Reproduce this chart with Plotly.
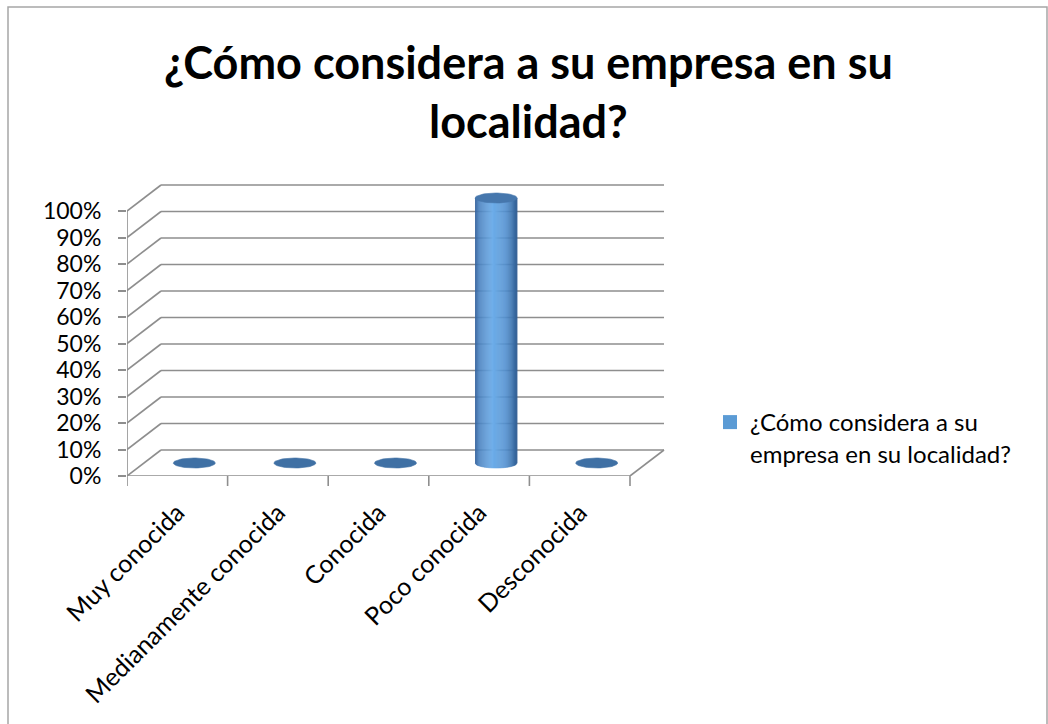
import numpy as np
import plotly.graph_objects as go

# ---- data ----
categories = ["Muy conocida", "Medianamente conocida", "Conocida", "Poco conocida", "Desconocida"]
values = [0.0, 0.0, 0.0, 1.0, 0.0]
series_name = "¿Cómo considera a su empresa en su localidad?"
y_ticks = [i / 10 for i in range(11)]

# ---- geometry of the pseudo-3D box (data units) ----
W, H = 1048, 724
L, R, T, B = 127, 383, 180, 248
plot_w = W - L - R
plot_h = H - T - B
cat_px = 100.6                      # pixels per category on the front edge
unit_px = 265.0                     # pixels per 100 %
x_min = -0.5
x_max = x_min + plot_w / cat_px
y_max = plot_h / unit_px
dx = 34 / cat_px                    # depth offset, horizontal
dy = 26 / unit_px                   # depth offset, vertical
n = len(categories)
rx = 21 / cat_px                    # cylinder radius (x)
ry = 5 / unit_px                    # cylinder radius (y, foreshortened)

grid_col = "#8e8e8e"
fig = go.Figure()
shapes = []

def seg(x0, y0, x1, y1, w=1.6, col=grid_col):
    shapes.append(dict(type="line", xref="x", yref="y", x0=x0, y0=y0, x1=x1, y1=y1,
                       line=dict(color=col, width=w), layer="below"))

# back wall gridlines + left wall diagonals
for v in y_ticks:
    seg(x_min, v, x_min + dx, v + dy)
    seg(x_min + dx, v + dy, n - 0.5 + dx, v + dy)
# front edge of the floor and right edge
seg(x_min, 0, n - 0.5, 0)
seg(n - 0.5, 0, n - 0.5 + dx, dy)
# front vertical axis
seg(x_min, 0, x_min, 1.0)
# category boundary ticks below the floor
for k in range(n + 1):
    shapes.append(dict(type="line", xref="x", yref="paper", x0=x_min + k, x1=x_min + k,
                       y0=0, y1=-10 / plot_h, line=dict(color=grid_col, width=1.6)))

# ---- cylinders ----
def blend(c1, c2, t):
    c1 = np.array([int(c1[i:i + 2], 16) for i in (1, 3, 5)])
    c2 = np.array([int(c2[i:i + 2], 16) for i in (1, 3, 5)])
    c = (c1 + (c2 - c1) * t).round().astype(int)
    return "#%02x%02x%02x" % tuple(c)

def body_color(u):
    # u in [0,1] across the cylinder, highlight left of centre
    stops = [(0.0, "#35629a"), (0.10, "#4a82c0"), (0.42, "#6eaeea"),
             (0.72, "#5190d0"), (0.9, "#3f73ad"), (1.0, "#325e92")]
    for (a, ca), (b, cb) in zip(stops[:-1], stops[1:]):
        if a <= u <= b:
            return blend(ca, cb, (u - a) / (b - a))
    return stops[-1][1]

theta = np.linspace(0, 2 * np.pi, 60)
for i, v in enumerate(values):
    xc = i + dx / 2
    yb = dy / 2
    if v > 0:
        yt = v + dy / 2
        strips = 40
        edges = np.linspace(xc - rx, xc + rx, strips + 1)
        for k in range(strips):
            xs = np.linspace(edges[k], edges[k + 1], 4)
            ybot = yb - ry * np.sqrt(np.clip(1 - ((xs - xc) / rx) ** 2, 0, 1))
            px = list(xs) + [edges[k + 1], edges[k]]
            py = list(ybot) + [yt, yt]
            col = body_color((k + 0.5) / strips)
            fig.add_trace(go.Scatter(x=px, y=py, mode="lines", fill="toself",
                                     fillcolor=col, line=dict(color=col, width=0.6),
                                     hoverinfo="skip", showlegend=False))
        fig.add_trace(go.Scatter(x=xc + rx * np.cos(theta), y=yt + ry * np.sin(theta),
                                 mode="lines", fill="toself", fillcolor="#4677ad",
                                 line=dict(color="#4677ad", width=0.6),
                                 hoverinfo="skip", showlegend=False))
    else:
        fig.add_trace(go.Scatter(x=xc + rx * np.cos(theta), y=yb + ry * np.sin(theta),
                                 mode="lines", fill="toself", fillcolor="#3f70a4",
                                 line=dict(color="#3f70a4", width=0.6),
                                 hoverinfo="skip", showlegend=False))

# legend entry
fig.add_trace(go.Scatter(x=[None], y=[None], mode="markers", name=series_name.replace("a su ", "a su<br>", 1),
                         marker=dict(symbol="square", size=14, color="#5b9bd5"), showlegend=True))

# chart title as a two-line annotation centred over the chart
fig.add_annotation(text="¿Cómo considera a su empresa en su<br>localidad?",
                   xref="paper", yref="paper", x=(528 - L) / plot_w, y=1 + (T - 33) / plot_h,
                   xanchor="center", yanchor="top", showarrow=False, align="center",
                   font=dict(family="Lato", size=45, color="#000000", weight="bold"))

fig.update_layout(
    width=W, height=H,
    margin=dict(l=L, r=R, t=T, b=B, autoexpand=False),
    paper_bgcolor="white", plot_bgcolor="white",
    font=dict(family="Lato", color="#000000", size=22),
    xaxis=dict(range=[x_min, x_max], tickvals=list(range(n)), ticktext=categories,
               tickangle=-45, showgrid=False, zeroline=False, showline=False,
               ticks="", ticklabelstandoff=16, tickfont=dict(size=25)),
    yaxis=dict(range=[0, y_max], tickvals=y_ticks, tickformat=".0%",
               showgrid=False, zeroline=False, showline=False,
               ticks="outside", ticklen=8, tickwidth=1.6, tickcolor=grid_col,
               ticklabelstandoff=12, tickfont=dict(size=23)),
    shapes=shapes + [dict(type="rect", xref="paper", yref="paper",
                          x0=(8 - L) / plot_w, x1=(1047 - L) / plot_w,
                          y0=-(B + 20) / plot_h, y1=1 + (T - 7) / plot_h,
                          line=dict(color="#a6a6a6", width=1.5), layer="below")],
    legend=dict(x=(710 - L) / plot_w, xanchor="left", y=(476 - 400) / plot_h, yanchor="top",
                valign="top", font=dict(size=24), itemwidth=30, bgcolor="rgba(0,0,0,0)"),
    showlegend=True,
)

fig.write_html("out.html")
